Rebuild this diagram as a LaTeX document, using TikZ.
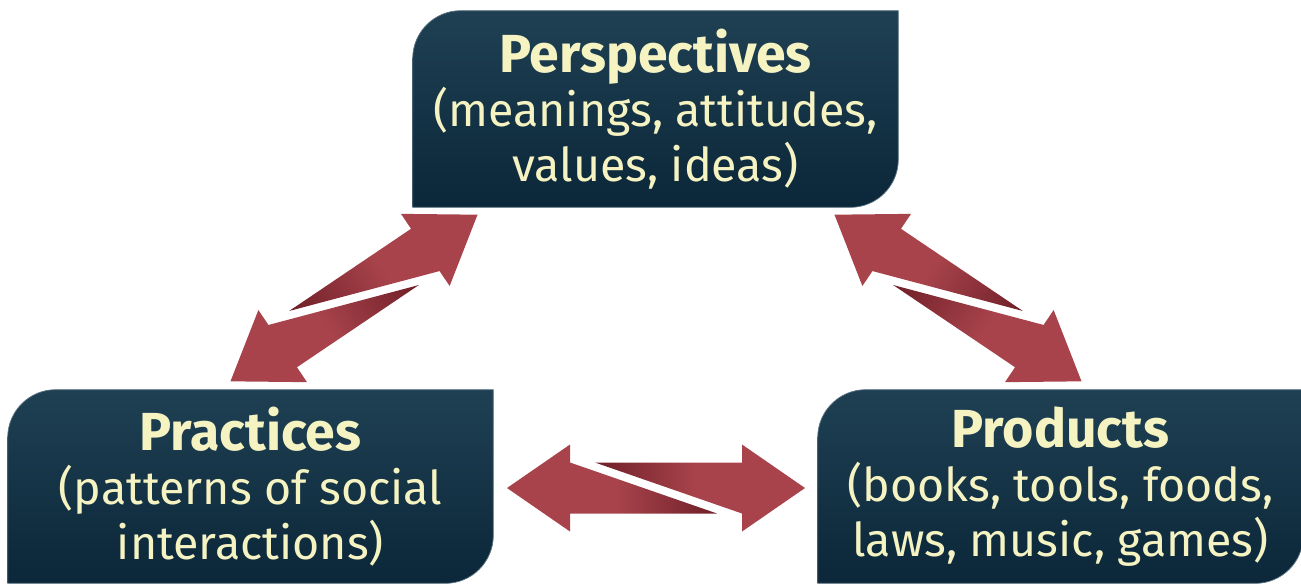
\documentclass[tikz,border=0pt]{standalone}
\usepackage{fontspec}
\setmainfont{Fira Sans}
\usetikzlibrary{backgrounds,positioning}

\definecolor{boxtop}{HTML}{1F4053}
\definecolor{boxbot}{HTML}{0B2739}
\definecolor{boxedge}{HTML}{5C7483}
\definecolor{boxtext}{HTML}{F6F3C3}
\definecolor{arrlight}{HTML}{A8434B}
\definecolor{arrdark}{HTML}{6F1F28}

% dark end on the left / on the right
\pgfdeclarehorizontalshading{fadeA}{100bp}{color(0bp)=(arrdark); color(25bp)=(arrdark); color(49bp)=(arrlight); color(100bp)=(arrlight)}
\pgfdeclarehorizontalshading{fadeB}{100bp}{color(0bp)=(arrlight); color(51bp)=(arrlight); color(75bp)=(arrdark); color(100bp)=(arrdark)}

\tikzset{
  box/.style={minimum width=9.7cm, inner sep=0pt, align=center,
    text=boxtext, font=\fontsize{26.5}{31.2}\selectfont},
  boxshade/.style={top color=boxtop, bottom color=boxbot, draw=boxedge, line width=0.4pt},
}

\newcommand{\boxshape}[1]{%
  \shade[boxshade] (#1.south west) -- ([yshift=-0.96cm]#1.north west)
    arc[start angle=180, end angle=90, radius=0.96cm] -- (#1.north east)
    -- ([yshift=0.96cm]#1.south east)
    arc[start angle=0, end angle=-90, radius=0.96cm] -- cycle;}

\newcommand{\splitarrow}[1]{%
  \begin{scope}[transform canvas={#1}]
    \shade[shading=fadeA] (149,0) -- (86,43.5) -- (86,25.5) -- (-61,25.5)
      -- (86,-25.5) -- (86,-43.5) -- cycle;
    \shade[shading=fadeB] (-149,0) -- (-86,43.5) -- (-86,25.5) -- (61,-25.5)
      -- (-86,-25.5) -- (-86,-43.5) -- cycle;
  \end{scope}}

\newcommand{\ttl}[1]{{\fontsize{30.5}{31.2}\selectfont\bfseries #1}}

\begin{document}
\begin{tikzpicture}[x=0.02cm, y=0.02cm]
\useasboundingbox (0,0) rectangle (1301,-583);

\node[box, minimum height=3.92cm] (persp) at (655.5,-109)
  {\ttl{Perspectives}\\(meanings, attitudes,\\values, ideas)};

\node[box, minimum height=3.86cm] (pract) at (250.5,-486.5)
  {\ttl{Practices}\\(patterns of social\\interactions)};

\node[box, minimum height=3.86cm] (prod) at (1060.5,-486.5)
  {\ttl{Products}\\(books, tools, foods,\\laws, music, games)};

\begin{pgfonlayer}{background}
\boxshape{persp}
\boxshape{pract}
\boxshape{prod}
\end{pgfonlayer}

%arrows
\coordinate (leftarr) at (354,-298);
\coordinate (rightarr) at (958,-298);
\coordinate (botarr) at (656,-488);

\splitarrow{shift={(leftarr)},rotate=34}
\splitarrow{shift={(rightarr)},xscale=-1,rotate=34}
\splitarrow{shift={(botarr)}}
\end{tikzpicture}
\end{document}
